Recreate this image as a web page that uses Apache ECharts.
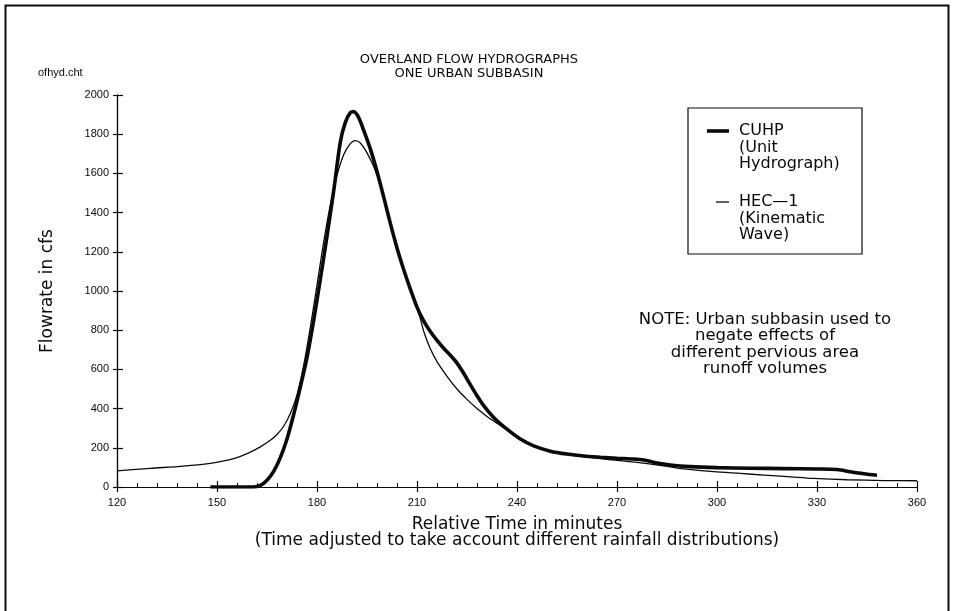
<!DOCTYPE html>
<html>
<head>
<meta charset="utf-8">
<title>Overland Flow Hydrographs</title>
<script src="https://cdn.jsdelivr.net/npm/echarts@6/dist/echarts.min.js"></script>
<style>
  html, body { margin: 0; padding: 0; background: #fff; }
  #chart { width: 959px; height: 611px; }
</style>
</head>
<body>
<div id="chart"></div>
<script>
// Time axis (minutes) and flow axis (cfs) ticks
const timeTicks = [120, 150, 180, 210, 240, 270, 300, 330, 360];
const flowTicks = [0, 200, 400, 600, 800, 1000, 1200, 1400, 1600, 1800, 2000];

// CUHP (Unit Hydrograph) run
const cuhpTime = [148, 155, 161, 163, 165, 167, 169, 171, 173, 175, 177, 179, 181, 183, 185, 187, 188.5, 190, 191, 192.5, 194, 196, 198, 200, 202, 204, 206, 208, 210, 212, 214, 216, 218, 220, 222, 224, 226, 228, 230, 233, 237, 241, 245, 250, 255, 260, 265, 270, 275, 278, 282, 286, 292, 300, 310, 320, 330, 336, 340, 344, 348];
const cuhpFlow = [0, 0, 0, 8, 35, 80, 150, 245, 370, 510, 660, 850, 1060, 1280, 1510, 1760, 1860, 1910, 1915, 1885, 1820, 1725, 1610, 1480, 1345, 1220, 1110, 1010, 918, 848, 793, 748, 708, 672, 632, 580, 522, 466, 415, 355, 295, 245, 210, 183, 168, 158, 152, 147, 143, 138, 122, 112, 104, 99, 96, 94, 92, 89, 78, 68, 60];

// HEC-1 (Kinematic Wave) run
const hecTime = [120, 130, 140, 148, 152, 156, 160, 163, 166, 168, 170, 172, 174, 176, 178, 180, 182, 184, 186, 188, 190, 191.5, 193, 195, 197, 199, 201, 203, 205, 207, 209, 211, 212, 214, 216, 219, 222, 225, 228, 231, 234, 237, 241, 245, 250, 255, 260, 265, 270, 276, 284, 290, 299, 307, 314, 322, 329, 339, 350, 360];
const hecFlow = [82, 95, 107, 121, 133, 150, 178, 205, 238, 268, 310, 375, 470, 620, 815, 1030, 1250, 1440, 1590, 1695, 1752, 1767, 1755, 1705, 1635, 1540, 1420, 1285, 1160, 1055, 955, 860, 795, 705, 640, 565, 500, 447, 400, 360, 325, 292, 245, 210, 182, 165, 155, 145, 136, 126, 108, 92, 78, 69, 61, 52, 44, 37, 33, 32];

const pair = (xs, ys) => xs.map((x, i) => [x, ys[i]]);

const STROKE_FONT = '"DejaVu Sans", "Liberation Sans", sans-serif';
const TICK_FONT = '"Liberation Sans", Arial, sans-serif';
const INK = '#0a0a0a';

const chart = echarts.init(document.getElementById('chart'), null, { renderer: 'canvas' });

const xBase = {
  type: 'value', min: timeTicks[0], max: timeTicks[timeTicks.length - 1], interval: 30,
  splitLine: { show: false }
};
const yBase = {
  type: 'value', min: flowTicks[0], max: flowTicks[flowTicks.length - 1], interval: 200,
  splitLine: { show: false }
};
const plainNumber = v => String(v);

chart.setOption({
  backgroundColor: '#fff',
  animation: false,
  title: {
    text: 'OVERLAND FLOW HYDROGRAPHS\nONE URBAN SUBBASIN',
    left: 464, top: 48, textAlign: 'center',
    textStyle: { fontFamily: STROKE_FONT, fontWeight: 'normal', fontSize: 13, lineHeight: 14, color: INK }
  },
  grid: { left: 117, right: 42, top: 95, bottom: 124, containLabel: false },
  xAxis: [
    Object.assign({}, xBase, {
      position: 'bottom',
      axisLine: { show: true, lineStyle: { color: INK, width: 1.2 } },
      axisTick: { show: true, inside: true, length: 6, lineStyle: { color: INK, width: 1.2 } },
      minorTick: { show: true, splitNumber: 5, length: 4, lineStyle: { color: INK, width: 1 } },
      axisLabel: { margin: 10, color: INK, fontSize: 11, fontFamily: TICK_FONT, formatter: plainNumber },
      name: 'Relative Time in minutes\n(Time adjusted to take account different rainfall distributions)',
      nameLocation: 'middle', nameGap: 29,
      nameTextStyle: { fontFamily: STROKE_FONT, fontSize: 17, lineHeight: 16.5, color: INK }
    }),
    Object.assign({}, xBase, {
      position: 'bottom',
      axisLine: { show: true, lineStyle: { color: INK, width: 1.2 } },
      axisTick: { show: true, inside: false, length: 5, lineStyle: { color: INK, width: 1.2 } },
      axisLabel: { show: false }
    })
  ],
  yAxis: [
    Object.assign({}, yBase, {
      position: 'left',
      axisLine: { show: true, lineStyle: { color: INK, width: 1.2 } },
      axisTick: { show: true, inside: false, length: 4, lineStyle: { color: INK, width: 1.2 } },
      axisLabel: { margin: 8, color: INK, fontSize: 11, fontFamily: TICK_FONT, formatter: plainNumber },
      name: 'Flowrate in cfs',
      nameLocation: 'middle', nameGap: 61, nameRotate: 90,
      nameTextStyle: { fontFamily: STROKE_FONT, fontSize: 17, color: INK }
    }),
    Object.assign({}, yBase, {
      position: 'left',
      axisLine: { show: true, lineStyle: { color: INK, width: 1.2 } },
      axisTick: { show: true, inside: true, length: 6, lineStyle: { color: INK, width: 1.2 } },
      axisLabel: { show: false }
    })
  ],
  series: [
    {
      name: 'HEC-1', type: 'line', xAxisIndex: 0, yAxisIndex: 0,
      data: pair(hecTime, hecFlow), showSymbol: false, symbol: 'none',
      smooth: 0.3,
      lineStyle: { color: INK, width: 1.3 }, z: 3
    },
    {
      name: 'CUHP', type: 'line', xAxisIndex: 0, yAxisIndex: 0,
      data: pair(cuhpTime, cuhpFlow), showSymbol: false, symbol: 'none',
      smooth: 0.3,
      lineStyle: { color: INK, width: 3.6 }, z: 4
    }
  ],
  graphic: [
    // page frame
    { type: 'rect', shape: { x: 5.5, y: 5.5, width: 943, height: 640 },
      style: { fill: null, stroke: INK, lineWidth: 2 }, silent: true },
    // chart file tag
    { type: 'text', left: 38, top: 67,
      style: { text: 'ofhyd.cht', font: '11px ' + TICK_FONT, fill: INK } },
    // legend box
    { type: 'rect', shape: { x: 688, y: 108, width: 174, height: 146 },
      style: { fill: '#fff', stroke: INK, lineWidth: 1.2 }, z: 10 },
    { type: 'line', shape: { x1: 707, y1: 131, x2: 729, y2: 131 },
      style: { stroke: INK, lineWidth: 3.6 }, z: 11 },
    { type: 'text', x: 739, y: 123, z: 11,
      style: { text: 'CUHP\n(Unit\nHydrograph)', font: '16px ' + STROKE_FONT, lineHeight: 16.5, fill: INK } },
    { type: 'line', shape: { x1: 716, y1: 202, x2: 729, y2: 202 },
      style: { stroke: INK, lineWidth: 1.3 }, z: 11 },
    { type: 'text', x: 739, y: 194, z: 11,
      style: { text: 'HEC—1\n(Kinematic\nWave)', font: '16px ' + STROKE_FONT, lineHeight: 16.5, fill: INK } },
    // note
    { type: 'text', x: 765, y: 311, z: 11,
      style: { text: 'NOTE: Urban subbasin used to\nnegate effects of\ndifferent pervious area\nrunoff volumes',
        font: '16.5px ' + STROKE_FONT, lineHeight: 16.5, fill: INK, align: 'center' } }
  ]
});
</script>
</body>
</html>
